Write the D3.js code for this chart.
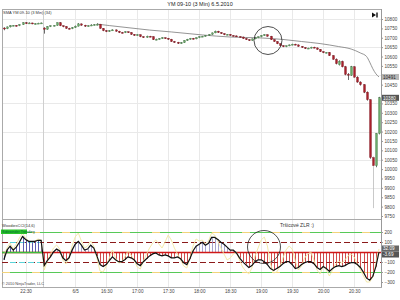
<!DOCTYPE html>
<html>
<head>
<meta charset="utf-8">
<script src="https://cdn.jsdelivr.net/npm/d3@7"></script>
<style>
  body { margin: 0; background: #fff; }
  text { font-family: "Liberation Sans", Arial, sans-serif; }
</style>
</head>
<body>
<svg id="chart" width="400" height="300"></svg>
<script>
'use strict';

// 3-minute bars of YM 09-10
var opens = [10752,10748,10758,10765,10766,10764,10770,10780,10777,10779,10774,10775,10778,
  10752,10745,10760,10764,10766,10780,10764,10760,10750,10748,10754,10762,10774,10767,10762,10764,10768,10770,
  10772,10750,10738,10733,10738,10742,10735,10728,10727,10732,10728,10718,10712,10716,10706,10702,10708,10706,
  10690,10692,10696,10700,10697,10692,10680,10676,10670,10674,10685,10692,10697,10694,10700,10706,10708,10712,
  10718,10726,10735,10728,10722,10716,10718,10712,10710,10706,10704,10696,10690,10686,10694,10700,10705,10712,
  10716,10708,10690,10680,10668,10658,10652,10657,10662,10666,10662,10654,10648,10642,10645,10650,10646,10638,
  10626,10620,10622,10605,10585,10556,10574,10545,10505,10500,10545,10490,10464,10450,10410,10370,10062,10018,10190];
var highs = [10756,10760,10767,10768,10768,10772,10783,10784,10782,10780,10778,10780,10781,
  10756,10762,10766,10768,10782,10784,10766,10762,10753,10757,10765,10778,10776,10769,10767,10772,10773,10777,
  10774,10752,10741,10741,10745,10744,10737,10731,10735,10734,10730,10720,10719,10718,10708,10711,10710,10708,
  10695,10698,10703,10702,10699,10694,10683,10678,10677,10687,10694,10699,10699,10702,10708,10710,10714,10720,
  10728,10738,10737,10730,10724,10720,10720,10714,10712,10708,10706,10698,10692,10696,10702,10707,10714,10719,
  10718,10710,10692,10682,10670,10660,10659,10664,10668,10668,10664,10656,10650,10647,10652,10652,10648,10640,
  10628,10624,10624,10607,10590,10580,10578,10550,10512,10550,10548,10495,10468,10453,10414,10372,10068,10192,10385];
var lows = [10740,10746,10755,10762,10760,10762,10768,10774,10776,10772,10772,10774,10776,
  10722,10743,10757,10761,10764,10762,10756,10748,10745,10746,10752,10760,10764,10758,10760,10762,10766,10766,
  10748,10735,10730,10731,10736,10732,10725,10724,10725,10726,10715,10710,10710,10703,10699,10700,10703,10688,
  10687,10690,10694,10694,10689,10678,10673,10667,10668,10672,10683,10690,10691,10692,10698,10704,10706,10710,
  10716,10724,10726,10720,10714,10714,10710,10708,10704,10702,10694,10688,10683,10684,10692,10698,10703,10710,
  10706,10688,10678,10666,10656,10650,10650,10655,10660,10660,10652,10646,10640,10640,10643,10644,10636,10624,
  10618,10617,10603,10583,10558,10552,10542,10500,10475,10497,10488,10460,10445,10405,10365,10055,9792,10010,10185];
var closes = [10748,10758,10765,10766,10764,10770,10780,10777,10779,10774,10775,10778,10779,
  10745,10760,10764,10766,10780,10764,10760,10750,10748,10754,10762,10774,10767,10762,10764,10768,10770,10772,
  10750,10738,10733,10738,10742,10735,10728,10727,10732,10728,10718,10712,10716,10706,10702,10708,10706,10690,
  10692,10696,10700,10697,10692,10680,10676,10670,10674,10685,10692,10697,10694,10700,10706,10708,10712,10718,
  10726,10735,10728,10722,10716,10718,10712,10710,10706,10704,10696,10690,10686,10694,10700,10705,10712,10716,
  10708,10690,10680,10668,10658,10652,10657,10662,10666,10662,10654,10648,10642,10645,10650,10646,10638,10626,
  10620,10622,10605,10585,10562,10574,10545,10505,10500,10545,10490,10464,10450,10410,10370,10062,10018,10190,10380];

// grey moving average, sparse points
var maBars = [30, 34, 41, 47, 54, 64, 73, 83, 90, 96, 102, 108, 112, 115, 117, 118, 119, 120, 121];
var maValues = [10773, 10765, 10752, 10741, 10731, 10715, 10704, 10699, 10691, 10680, 10669, 10653,
  10640, 10619, 10600, 10570, 10535, 10508, 10491];

// Woodies CCI (black) and turbo CCI (yellow)
var cci = [-78,19,58,19,49,97,155,126,107,107,107,117,117,
  -136,-87,-49,0,29,10,-58,-87,-58,19,78,107,68,19,29,68,39,-39,
  -126,-146,-126,-87,-49,-78,-97,-97,-78,-49,-58,-78,-117,-136,-97,-68,-39,-19,
  -10,-29,-39,-29,-39,-58,-58,-49,-68,-107,-126,-68,10,58,78,97,68,87,
  146,146,126,97,78,49,19,19,-10,-58,-97,-126,-155,-136,-97,-78,-78,-97,
  -126,-165,-184,-165,-146,-117,-97,-97,-126,-165,-155,-126,-107,-97,-97,-117,-155,-175,
  -146,-165,-194,-165,-146,-136,-146,-136,-117,-107,-107,-126,-155,-204,-262,-282,-243,-146,0];
var tcci = [-40,40,90,30,80,140,190,140,110,100,110,130,120,
  -180,-90,-20,40,70,30,-80,-120,-60,60,150,190,110,40,60,110,60,-60,
  -190,-200,-140,-60,20,-60,-110,-100,-50,10,-30,-80,-150,-170,-90,-20,40,90,
  120,80,40,100,170,120,40,-20,-80,-140,-160,-60,60,130,110,120,80,110,
  190,170,110,40,-20,-80,-60,-20,0,-80,-150,-190,-220,-160,-40,40,120,150,
  60,-120,-210,-200,-150,-60,20,60,30,-90,-180,-140,-60,-20,0,-80,-180,-220,
  -140,-180,-240,-180,-120,-90,-110,-80,-40,-20,-50,-120,-180,-240,-300,-300,-250,-110,30];

var priceTicks = [10800,10750,10700,10650,10600,10550,10450,10350,10300,10250,10200,
  10150,10100,10050,10000,9950,9900,9850,9800,9750];
var priceGrid = [10800,10650,10500,10350,10200,10050,9900];
var cciTicks = [200,100,-100,-200,-300];
var tickBars = [7, 23, 33, 43, 53, 63, 73, 83, 93, 103, 113];
var tickLabels = ['22:30','6/5','16:30','17:00','17:30','18:00','18:30','19:00','19:30','20:00','20:30'];
var sessionBreak = 12.5;

var svg = d3.select('#chart');
var left = 2, right = 381;
var upTop = 9, upBottom = 219, loBottom = 287;

var bars = d3.range(opens.length);
var x = d3.scaleLinear().domain([0, bars.length - 1]).range([3.9, 379]);
var yP = d3.scaleLinear().domain([9750, 10800]).range([216, 19]);
var yC = d3.scaleLinear().domain([-300, 200]).range([282, 232]);

// title
svg.append('text')
    .attr('x', 200).attr('y', 6)
    .attr('text-anchor', 'middle')
    .style('font-size', '5.5px').attr('fill', '#222')
    .text('YM 09-10 (3 Min)  6.5.2010');

// grid
var grid = svg.append('g').attr('stroke', '#e9e9e9').attr('stroke-width', 1);
grid.selectAll('.vgrid').data(tickBars).enter().append('line')
    .attr('x1', function(d) { return Math.round(x(d)) + 0.5; })
    .attr('x2', function(d) { return Math.round(x(d)) + 0.5; })
    .attr('y1', upTop).attr('y2', loBottom);
grid.selectAll('.hgrid').data(priceGrid).enter().append('line')
    .attr('x1', left).attr('x2', right)
    .attr('y1', function(d) { return Math.round(yP(d)) + 0.5; })
    .attr('y2', function(d) { return Math.round(yP(d)) + 0.5; });
svg.append('line')
    .attr('x1', Math.round(x(sessionBreak)) + 0.5).attr('x2', Math.round(x(sessionBreak)) + 0.5)
    .attr('y1', upTop).attr('y2', loBottom)
    .attr('stroke', '#cfcfcf');

// panel frames
svg.append('rect').attr('x', left + 0.5).attr('y', upTop + 0.5)
    .attr('width', right - left).attr('height', loBottom - upTop)
    .attr('fill', 'none').attr('stroke', '#aaa');
svg.append('line').attr('x1', left).attr('x2', right)
    .attr('y1', upBottom + 0.5).attr('y2', upBottom + 0.5).attr('stroke', '#aaa');

// ---- price panel
svg.append('clipPath').attr('id', 'clipUp').append('rect')
    .attr('x', left).attr('y', upTop).attr('width', right - left).attr('height', upBottom - upTop);
var up = svg.append('g').attr('clip-path', 'url(#clipUp)');

up.append('path')
    .datum(maBars)
    .attr('fill', 'none').attr('stroke', '#7a7a7a').attr('stroke-width', 0.8)
    .attr('d', d3.line()
        .x(function(d) { return x(d); })
        .y(function(d, i) { return yP(maValues[i]); })
        .curve(d3.curveMonotoneX));

var candle = up.selectAll('.candle').data(bars).enter().append('g');
candle.append('line')
    .attr('x1', function(d) { return Math.round(x(d)) + 0.5; })
    .attr('x2', function(d) { return Math.round(x(d)) + 0.5; })
    .attr('y1', function(d) { return yP(highs[d]); })
    .attr('y2', function(d) { return yP(lows[d]); })
    .attr('stroke', function(d) { return d === 119 ? '#bbb' : '#444'; })
    .attr('stroke-width', 0.8);
candle.append('rect')
    .attr('x', function(d) { return Math.round(x(d)) - 0.5; })
    .attr('width', 2)
    .attr('y', function(d) { return yP(Math.max(opens[d], closes[d])); })
    .attr('height', function(d) { return Math.max(1, Math.abs(yP(opens[d]) - yP(closes[d]))); })
    .attr('fill', function(d) {
      if (closes[d] > opens[d]) return '#6aaa6a';
      if (closes[d] < opens[d]) return '#a8202a';
      return '#333';
    })
    .attr('stroke', function(d) { return closes[d] >= opens[d] ? '#3d6e3d' : '#6e1018'; })
    .attr('stroke-width', 0.3);

// circle highlight on price
up.append('circle').attr('cx', 268).attr('cy', 40.5).attr('r', 14)
    .attr('fill', 'none').attr('stroke', '#222').attr('stroke-width', 0.8);

svg.append('text').attr('x', 3).attr('y', 14)
    .style('font-size', '4px').attr('fill', '#333')
    .text('SMA YM 09-10 (3 Min) (34)');

// go-to-end icon
svg.append('path')
    .attr('d', 'M372,12.5 L376,15 L372,17.5 Z M376.3,12.5 h1.4 v5 h-1.4 Z')
    .attr('fill', '#111');

// ---- CCI panel
svg.append('clipPath').attr('id', 'clipLo').append('rect')
    .attr('x', left).attr('y', upBottom + 1).attr('width', right - left).attr('height', loBottom - upBottom - 1);
var lo = svg.append('g').attr('clip-path', 'url(#clipLo)');

function hline(v, color, width, dash, x0, x1) {
  lo.append('line')
      .attr('x1', x0 == null ? left : x0).attr('x2', x1 == null ? right : x1)
      .attr('y1', Math.round(yC(v)) + 0.5).attr('y2', Math.round(yC(v)) + 0.5)
      .attr('stroke', color).attr('stroke-width', width)
      .attr('stroke-dasharray', dash);
}
hline(200, '#57c957', 1, null);
hline(-200, '#57c957', 1, null);
hline(200, '#f2d37a', 1, '8,22');
hline(-200, '#f2d37a', 1, '8,22');
hline(100, '#8b1a1a', 1, '6,3');
hline(-100, '#8b1a1a', 1, '6,3');
hline(100, '#5ad3d8', 1, '6,3', 10, 40);
hline(-100, '#5ad3d8', 1, '6,3', 10, 40);

// histogram
lo.selectAll('.hist').data(bars).enter().append('line')
    .attr('x1', function(d) { return Math.round(x(d)) + 0.5; })
    .attr('x2', function(d) { return Math.round(x(d)) + 0.5; })
    .attr('y1', yC(0))
    .attr('y2', function(d) { return yC(cci[d]); })
    .attr('stroke', function(d) {
      if (d < 13) return '#33339e';
      return cci[d] < 0 ? '#c42020' : '#8f8fc4';
    })
    .attr('stroke-width', 0.8);

hline(0, '#d01818', 1.6, null);
hline(0, '#3bbf3b', 1.6, null, left, x(sessionBreak));

lo.append('path')
    .datum(bars)
    .attr('fill', 'none').attr('stroke', '#f2e7a2').attr('stroke-width', 0.9)
    .attr('d', d3.line().x(function(d) { return x(d); }).y(function(d) { return yC(tcci[d]); }));
lo.append('path')
    .datum(bars)
    .attr('fill', 'none').attr('stroke', '#111').attr('stroke-width', 1.2)
    .attr('d', d3.line().x(function(d) { return x(d); }).y(function(d) { return yC(cci[d]); }));

lo.append('circle').attr('cx', 264).attr('cy', 247).attr('r', 16.5)
    .attr('fill', 'none').attr('stroke', '#222').attr('stroke-width', 0.8);

svg.append('text').attr('x', 297).attr('y', 227)
    .attr('text-anchor', 'middle')
    .style('font-size', '5px').attr('fill', '#333')
    .text('Tršicové ZLR :)');

svg.append('text').attr('x', 2).attr('y', 227)
    .style('font-size', '4px').attr('fill', '#333')
    .text('WoodiesCCI(14,6)');
svg.append('rect').attr('x', 1).attr('y', 229.5).attr('width', 26).attr('height', 4.5)
    .attr('fill', '#29c429');
svg.append('text').attr('x', 2).attr('y', 233.3)
    .style('font-size', '3.6px').attr('fill', '#063')
    .text('Sidewinder Trending');
svg.append('text').attr('x', 2).attr('y', 285)
    .style('font-size', '3.8px').attr('fill', '#444')
    .text('\u00a9 2010 NinjaTrader, LLC');

// ---- axes
var axisP = svg.append('g')
    .attr('transform', 'translate(' + right + ',0)')
    .call(d3.axisRight(yP).tickValues(priceTicks).tickSize(2).tickPadding(1.5)
        .tickFormat(function(d) { return d; }));
var axisC = svg.append('g')
    .attr('transform', 'translate(' + right + ',0)')
    .call(d3.axisRight(yC).tickValues(cciTicks).tickSize(2).tickPadding(1.5));
var axisX = svg.append('g')
    .attr('transform', 'translate(0,' + loBottom + ')')
    .call(d3.axisBottom(x).tickValues(tickBars).tickSize(0).tickPadding(3)
        .tickFormat(function(d, i) { return tickLabels[i]; }));
[axisP, axisC, axisX].forEach(function(a) {
  a.selectAll('text').style('font-size', '4.6px').attr('fill', '#444');
  a.selectAll('line').attr('stroke', '#999');
  a.select('.domain').attr('stroke', '#999');
});
axisC.select('.domain').remove();
axisP.select('.domain').attr('d', 'M0.5,' + upTop + 'V' + loBottom);
axisX.select('.domain').remove();

// value markers on the right axis
function marker(y, label, fill, color) {
  svg.append('rect').attr('x', right + 1).attr('y', y - 3).attr('width', 17).attr('height', 6)
      .attr('fill', fill);
  svg.append('text').attr('x', right + 2).attr('y', y + 1.7)
      .style('font-size', '4.6px').attr('fill', color).text(label);
}
marker(yP(maValues[maValues.length - 1]), maValues[maValues.length - 1], '#b8b8b8', '#222');
marker(yP(closes[closes.length - 1]), closes[closes.length - 1], '#555', '#fff');
marker(yC(tcci[tcci.length - 1]) - 0.5, '32.09', '#666', '#fff');
marker(yC(cci[cci.length - 1]) + 2.5, '-3.69', '#555', '#fff');
</script>
</body>
</html>
